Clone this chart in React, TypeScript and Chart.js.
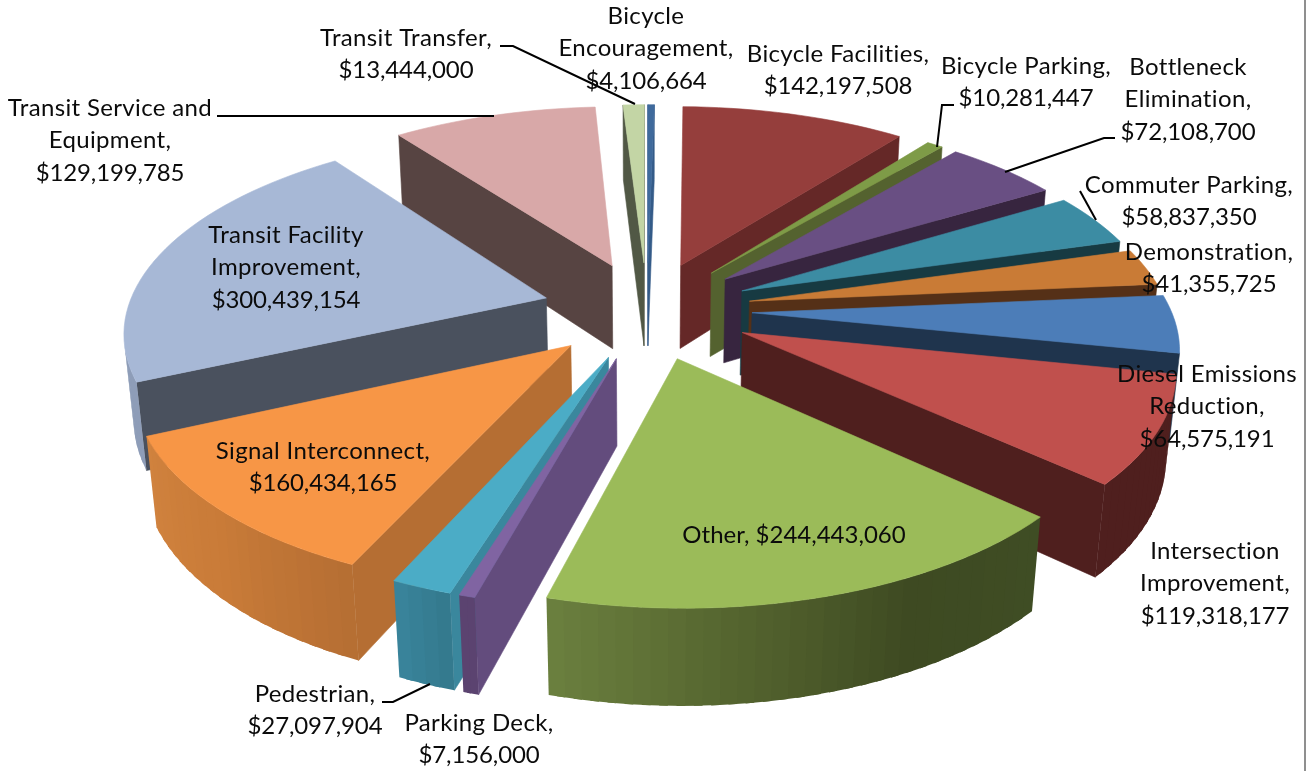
import React, { useEffect, useRef } from "react";
import { Chart, registerables } from "chart.js";

Chart.register(...registerables);

const categories = [
  "Bicycle Encouragement", "Bicycle Facilities", "Bicycle Parking", "Bottleneck Elimination",
  "Commuter Parking", "Demonstration", "Diesel Emissions Reduction", "Intersection Improvement",
  "Other", "Parking Deck", "Pedestrian", "Signal Interconnect", "Transit Facility Improvement",
  "Transit Service and Equipment", "Transit Transfer",
];
const values = [
  4106664, 142197508, 10281447, 72108700, 58837350, 41355725, 64575191, 119318177,
  244443060, 7156000, 27097904, 160434165, 300439154, 129199785, 13444000,
];

const topColors = [
  "#3F6A9C", "#953E3C", "#7E9B47", "#694F83", "#3C8CA3", "#C97B36", "#4C7DB8", "#C0504D",
  "#9BBB59", "#8064A2", "#4BACC6", "#F79646", "#A7B8D6", "#D8A8A8", "#C3D5A5",
];
const wallColors = [
  "#345B88", "#652827", "#54622F", "#37253F", "#173A42", "#553017", "#1F344D", "#4F1F1E",
  "#3F4D24", "#634C7D", "#3A879D", "#B56E33", "#4A515E", "#574442", "#515845",
];
// rim shading, listed from the slice's first angle to its last
const rimColors = [
  ["#345B88"], ["#652827"], ["#54622F"], ["#37253F"], ["#173A42"], ["#553017"], ["#1F344D"],
  ["#4F1F1E", "#4F1F1E"],
  ["#3F4D24", "#3E4A22", "#55652F", "#6B803F"],
  ["#5B4370"],
  ["#33788C", "#3A859C"],
  ["#B56E33", "#C97B38", "#D0823E"],
  ["#8E9DB8"], ["#574442"], ["#515845"],
];

const labelLines = [
  ["Bicycle", "Encouragement,", "$4,106,664"],
  ["Bicycle Facilities,", "$142,197,508"],
  ["Bicycle Parking,", "$10,281,447"],
  ["Bottleneck", "Elimination,", "$72,108,700"],
  ["Commuter Parking,", "$58,837,350"],
  ["Demonstration,", "$41,355,725"],
  ["Diesel Emissions", "Reduction,", "$64,575,191"],
  ["Intersection", "Improvement,", "$119,318,177"],
  ["Other, $244,443,060"],
  ["Parking Deck,", "$7,156,000"],
  ["Pedestrian,", "$27,097,904"],
  ["Signal Interconnect,", "$160,434,165"],
  ["Transit Facility", "Improvement,", "$300,439,154"],
  ["Transit Service and", "Equipment,", "$129,199,785"],
  ["Transit Transfer,", "$13,444,000"],
];
const labelCenters = [
  [646, 16], [838, 54], [1026, 66], [1188, 67], [1189, 185], [1209, 252], [1207, 374], [1215, 551],
  [794, 535], [479, 723], [315, 694], [323, 451], [286, 235], [110, 108], [406, 38],
];
const leaderLines = [
  [[500, 46], [513, 46], [635, 104]],
  [[217, 116], [494, 116]],
  [[954, 105], [942, 105], [937, 147]],
  [[1115, 138], [1104, 138], [1005, 172]],
  [[1080, 191], [1096, 220]],
  [[382, 702], [393, 702], [430, 684]],
];

const VIEW = {
  cx: 647, cy: 310, D: 2450, sinE: 0.466, cosE: 0.885, depth: 98, radius: 419,
};
const EXPLODE = 85.8;
const FONT_SIZE = 24;
const LINE_H = 32.5;
const WORD_SPACING = "0.35px";
const MONEY_SPACING = "-0.12px";

function project(X: number, Y: number, Z: number): [number, number] {
  const w = 1 - (Y * VIEW.cosE + Z * VIEW.sinE) / VIEW.D;
  const v = Y * VIEW.sinE - Z * VIEW.cosE;
  return [VIEW.cx + X / w, VIEW.cy + v / w];
}

function area(p: [number, number][]) {
  let s = 0;
  for (let i = 0; i < p.length; i++) {
    const a = p[i];
    const b = p[(i + 1) % p.length];
    s += a[0] * b[1] - b[0] * a[1];
  }
  return s;
}

function poly(ctx: CanvasRenderingContext2D, p: [number, number][], color: string, edge = 0.6) {
  ctx.beginPath();
  p.forEach((q, i) => (i ? ctx.lineTo(q[0], q[1]) : ctx.moveTo(q[0], q[1])));
  ctx.closePath();
  ctx.fillStyle = color;
  ctx.fill();
  if (edge > 0) {
    ctx.strokeStyle = color;
    ctx.lineWidth = edge;
    ctx.lineJoin = "round";
    ctx.stroke();
  }
}

function hex(c: string) {
  return [1, 3, 5].map((i) => parseInt(c.slice(i, i + 2), 16));
}
function shade(list: string[], t: number) {
  if (list.length === 1) return list[0];
  const f = Math.min(0.9999, t) * (list.length - 1);
  const i = Math.floor(f);
  const a = hex(list[i]);
  const b = hex(list[i + 1]);
  const m = a.map((v, k) => Math.round(v + (b[k] - v) * (f - i)));
  return `rgb(${m[0]},${m[1]},${m[2]})`;
}

const pie3d = {
  id: "pie3d",
  beforeDatasetDraw(chart: any, args: any) {
    const ctx: CanvasRenderingContext2D = chart.ctx;
    const els = args.meta.data as any[];
    const order = els
      .map((el, i) => ({ el, i, mid: (el.startAngle + el.endAngle) / 2 }))
      .sort((a, b) => Math.sin(a.mid) - Math.sin(b.mid));
    for (const { el, i, mid } of order) {
      const k = VIEW.radius / el.outerRadius;
      const R = el.outerRadius * k;
      const e = el.options.offset * k;
      const ax = e * Math.cos(mid);
      const ay = e * Math.sin(mid);
      const h = -VIEW.depth;
      const a0 = el.startAngle;
      const a1 = el.endAngle;
      const rim = (a: number, z: number) =>
        project(ax + R * Math.cos(a), ay + R * Math.sin(a), z);
      const apexT = project(ax, ay, 0);
      const apexB = project(ax, ay, h);

      const w0: [number, number][] = [apexT, rim(a0, 0), rim(a0, h), apexB];
      const w1: [number, number][] = [apexT, rim(a1, 0), rim(a1, h), apexB];
      if (area(w0) < 0) poly(ctx, w0, wallColors[i]);
      if (area(w1) > 0) poly(ctx, w1, wallColors[i]);

      const n = Math.max(2, Math.ceil((a1 - a0) / (Math.PI / 90)));
      const step = (a1 - a0) / n;
      for (let s = 0; s < n; s++) {
        const b0 = a0 + step * s;
        const b1 = b0 + step;
        const vis: [number, number][] = [rim(b0, 0), rim(b1, 0), rim(b1, h), rim(b0, h)];
        if (area(vis) < 0) {
          const b2 = s < n - 1 ? b1 + step * 0.5 : b1;
          const q: [number, number][] = [rim(b0, 0), rim(b2, 0), rim(b2, h), rim(b0, h)];
          poly(ctx, q, shade(rimColors[i], (s + 0.5) / n), 0);
        }
      }

      const top: [number, number][] = [apexT];
      for (let s = 0; s <= n; s++) top.push(rim(a0 + step * s, 0));
      poly(ctx, top, topColors[i]);
    }
    return false;
  },
  afterDraw(chart: any) {
    const ctx: CanvasRenderingContext2D = chart.ctx;
    ctx.save();
    ctx.strokeStyle = "#000000";
    ctx.lineWidth = 2;
    ctx.lineJoin = "miter";
    for (const line of leaderLines) {
      ctx.beginPath();
      line.forEach((p, i) => (i ? ctx.lineTo(p[0], p[1]) : ctx.moveTo(p[0], p[1])));
      ctx.stroke();
    }
    ctx.fillStyle = "#0b0b0b";
    ctx.font = `${FONT_SIZE}px Lato`;
    (ctx as any).textRendering = "optimizeSpeed";
    ctx.textAlign = "center";
    ctx.textBaseline = "middle";
    labelLines.forEach((lines, i) => {
      lines.forEach((t, j) => {
        const spacing = t.startsWith("Other") ? "0px" : t.startsWith("$") ? MONEY_SPACING : WORD_SPACING;
        (ctx as any).letterSpacing = spacing;
        ctx.fillText(t, labelCenters[i][0], labelCenters[i][1] + j * LINE_H);
      });
    });
    ctx.restore();
  },
};

export default function App() {
  const ref = useRef<HTMLCanvasElement | null>(null);
  useEffect(() => {
    document.body.style.margin = "0";
    const chart = new Chart(ref.current as HTMLCanvasElement, {
      type: "pie",
      data: {
        labels: categories,
        datasets: [{ data: values, backgroundColor: topColors, borderWidth: 0, offset: EXPLODE }],
      },
      options: {
        animation: false,
        responsive: false,
        plugins: { legend: { display: false }, tooltip: { enabled: false } },
      },
      plugins: [pie3d],
    } as any);
    return () => chart.destroy();
  }, []);
  return (
    <div style={{ position: "absolute", left: 0, top: 0, width: 1314, height: 771, background: "#fff", overflow: "hidden" }}>
      <canvas ref={ref} width={1314} height={771} style={{ display: "block" }} />
      <div style={{ position: "absolute", left: 1304, top: 0, width: 2, height: 771, background: "#8f8f8f" }} />
    </div>
  );
}
